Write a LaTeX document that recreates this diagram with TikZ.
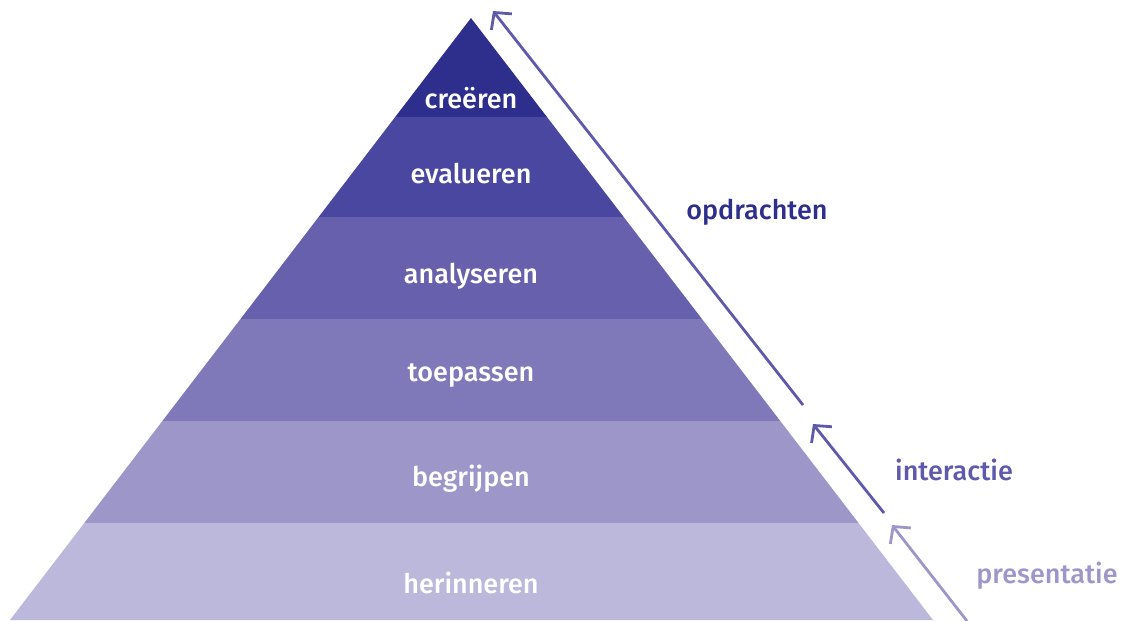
\documentclass[tikz,border=0pt]{standalone}
\usepackage{fontspec}
\setmainfont{Fira Sans}[UprightFont=* Medium]
\usetikzlibrary{calc,arrows.meta}
\definecolor{c1}{HTML}{2E2E8C}
\definecolor{c2}{HTML}{4A47A0}
\definecolor{c3}{HTML}{6660AD}
\definecolor{c4}{HTML}{7F78B9}
\definecolor{c5}{HTML}{9D96C8}
\definecolor{c6}{HTML}{BCB8DB}
\definecolor{a1}{HTML}{5E59AA}
\definecolor{a3}{HTML}{9D96C8}
\tikzset{
  lvl/.style={text=white,font=\fontsize{27}{31}\selectfont},
  side/.style={font=\fontsize{27}{31}\selectfont},
  upar/.style={line width=2.8pt,-{Straight Barb[length=12pt,width=26pt,line width=2.8pt]}}
}
\begin{document}
\begin{tikzpicture}[x=1pt,y=-1pt]
\useasboundingbox (0,0) rectangle (1133,621);
\coordinate (apex) at (471,18);
\coordinate (bl) at (10,620);
\coordinate (br) at (933,620);
\foreach \i/\t in {1/0.16445,2/0.33056,3/0.5,4/0.66944,5/0.83887}{
  \coordinate (L\i) at ($(apex)!\t!(bl)$);
  \coordinate (R\i) at ($(apex)!\t!(br)$);
}
\fill[c1] (apex) -- (R1) -- (L1) -- cycle;
\fill[c2] (L1) -- (R1) -- (R2) -- (L2) -- cycle;
\fill[c3] (L2) -- (R2) -- (R3) -- (L3) -- cycle;
\fill[c4] (L3) -- (R3) -- (R4) -- (L4) -- cycle;
\fill[c5] (L4) -- (R4) -- (R5) -- (L5) -- cycle;
\fill[c6] (L5) -- (R5) -- (br) -- (bl) -- cycle;
\node[lvl] (n1) at (471,98) {creëren};
\node[lvl] (n2) at (471,174) {evalueren};
\node[lvl] (n3) at (471,276) {analyseren};
\node[lvl] (n4) at (471,376) {toepassen};
\node[lvl] (n5) at (471,479) {begrijpen};
\node[lvl] (n6) at (471,583) {herinneren};
\node[side,text=c1] (s1) at (757,212) {opdrachten};
\node[side,text=a1] (s2) at (954,470) {interactie};
\node[side,text=a3] (s3) at (1047,576) {presentatie};
\coordinate (a1s) at (803,405);
\coordinate (a1e) at (493,11);
\coordinate (a2s) at (884,513);
\coordinate (a2e) at (813,424);
\coordinate (a3s) at (967,621);
\coordinate (a3e) at (892,525);
\draw[upar,a1] (a1s) -- (a1e);
\draw[upar,a1] (a2s) -- (a2e);
\draw[upar,a3] (a3s) -- (a3e);
\end{tikzpicture}
\end{document}
